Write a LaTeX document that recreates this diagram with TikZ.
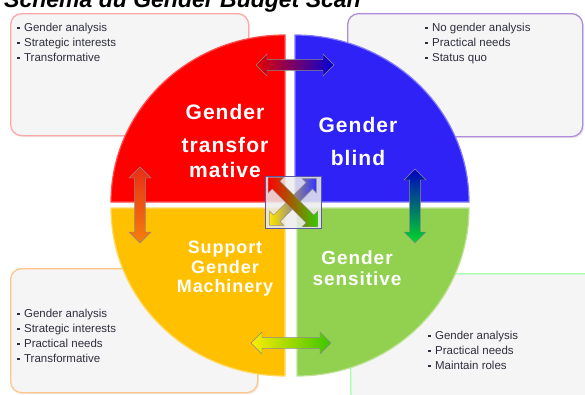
\documentclass[tikz,border=0pt]{standalone}
\usepackage{fontspec}
\setmainfont{Liberation Sans}
\newfontfamily\qfont[LetterSpace=5]{Liberation Sans}
\usetikzlibrary{shapes.arrows,shadows}
\newcommand{\bul}{\raisebox{2.5pt}{\rule{2.4pt}{2.4pt}}\hspace{4.5pt}}
\definecolor{qred}{HTML}{FF0000}
\definecolor{qblue}{HTML}{2E22F6}
\definecolor{qorange}{HTML}{FFC000}
\definecolor{qgreen}{HTML}{92D050}
\definecolor{boxfill}{HTML}{F5F5F5}
\definecolor{boxtext}{HTML}{2F2F3F}
\tikzset{
  infobox/.style={draw, line width=1.3pt, fill=boxfill, rounded corners=11pt, inner sep=0pt,
    anchor=north west, drop shadow={opacity=0.15, shadow xshift=1.5pt, shadow yshift=-1.5pt}},
  bullets/.style={anchor=north west, align=left, inner sep=0pt, text=boxtext,
    font=\fontsize{11.5}{15}\selectfont},
  qtext/.style={text=white, align=center, inner sep=0pt, font=\qfont\bfseries},
  darrow/.style={double arrow, minimum height=#1, minimum width=22pt, inner sep=4.5pt,
    double arrow head extend=5pt, draw=black!45, line width=0.4pt},
}
\begin{document}
\begin{tikzpicture}[x=1pt,y=-1pt]
\useasboundingbox (0,0) rectangle (585,394);
% title (cut at top, as in the reference)
\node[anchor=base west, inner sep=0pt, font=\fontsize{23}{23}\selectfont\bfseries\itshape] (title) at (4,7) {Schema du Gender Budget Scan};
% info boxes
\node[infobox, draw=red!35, minimum width=238pt, minimum height=122pt] (tlbox) at (10,13) {};
\node[infobox, draw=blue!40!violet!45, minimum width=235pt, minimum height=123pt] (trbox) at (347,13) {};
\node[infobox, draw=orange!45, minimum width=247pt, minimum height=124pt] (blbox) at (10,268) {};
\node[infobox, draw=green!35, minimum width=245pt, minimum height=130pt] (brbox) at (350,273) {};
\node[bullets] (tltext) at (17,23) {\bul Gender analysis\\ \bul Strategic interests\\ \bul Transformative};
\node[bullets] (trtext) at (425,23) {\bul No gender analysis\\ \bul Practical needs\\ \bul Status quo};
\node[bullets] (bltext) at (17,309) {\bul Gender analysis\\ \bul Strategic interests\\ \bul Practical needs\\ \bul Transformative};
\node[bullets] (brtext) at (428,331) {\bul Gender analysis\\ \bul Practical needs\\ \bul Maintain roles};
% quadrants
\filldraw[fill=qred, draw=red!70!white, line width=1.2pt] (285,202) -- ++(-174,0)
  arc[start angle=180, end angle=270, x radius=174, y radius=167] -- cycle;
\filldraw[fill=qblue, draw=qblue!60!white, line width=1.2pt] (295,202) -- ++(0,-167)
  arc[start angle=270, end angle=360, x radius=174, y radius=167] -- cycle;
\filldraw[fill=qorange, draw=qorange!60!white, line width=1.2pt] (285,208) -- ++(-174,0)
  arc[start angle=180, end angle=90, x radius=174, y radius=168] -- cycle;
\filldraw[fill=qgreen, draw=qgreen!60!white, line width=1.2pt] (297,208) -- ++(172,0)
  arc[start angle=0, end angle=90, x radius=172, y radius=168] -- cycle;
% quadrant labels
\node[qtext, font=\qfont\bfseries\fontsize{21}{25}\selectfont] (redlbl) at (225,141) {Gender\\[8pt]transfor\\mative};
\node[qtext, font=\qfont\bfseries\fontsize{21}{33}\selectfont] (bluelbl) at (358,141) {Gender\\blind};
\node[qtext, font=\qfont\bfseries\fontsize{18}{19.5}\selectfont] (orangelbl) at (225,269) {Support\\Gender\\Machinery};
\node[qtext, font=\qfont\bfseries\fontsize{19}{21}\selectfont] (greenlbl) at (357,268) {Gender\\sensitive};
% connecting arrows
\node[darrow=78pt, left color=red!90!black, right color=blue!85!black] (toparrow) at (295,65) {};
\node[darrow=80pt, left color=yellow!85!orange, right color=green!55!olive] (botarrow) at (291,343) {};
\node[darrow=76pt, shape border rotate=90, top color=red!65!brown, bottom color=orange!85!brown] (leftarrow) at (140,205) {};
\node[darrow=74pt, shape border rotate=90, top color=blue!75!black, bottom color=green!70!teal] (rightarrow) at (415,206) {};
% center cross
\node[draw=blue!30!gray, line width=0.5pt, fill=white!85!gray, fill opacity=0.85, minimum width=56pt, minimum height=52pt, inner sep=0pt] (center) at (293,202) {};
\node[darrow=66pt, minimum width=20pt, inner sep=4pt, rotate=45, left color=yellow!80!orange, right color=blue!80] (diagb) at (293,202) {};
\node[darrow=70pt, minimum width=22pt, inner sep=4.5pt, rotate=-45, left color=red, right color=green!60!olive] (diaga) at (293,202) {};
\end{tikzpicture}
\end{document}
